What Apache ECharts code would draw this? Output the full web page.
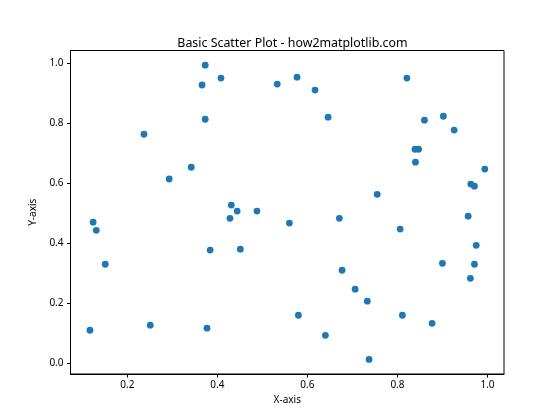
<!DOCTYPE html>
<html>
<head>
<meta charset="utf-8">
<script src="https://cdn.jsdelivr.net/npm/echarts@6/dist/echarts.min.js"></script>
<style>html,body{margin:0;padding:0;background:#fff}#c{width:560px;height:420px}</style>
</head>
<body>
<div id="c"></div>
<script>
const titleText = 'Basic Scatter Plot - how2matplotlib.com';
const xName = 'X-axis';
const yName = 'Y-axis';
const xTicks = [0.2, 0.4, 0.6, 0.8, 1.0];
const yTicks = [0.0, 0.2, 0.4, 0.6, 0.8, 1.0];
const xValues = [0.373,0.408,0.366,0.533,0.373,0.237,0.342,0.293,0.577,0.617,0.646,0.821,0.860,0.902,0.926,0.839,0.847,0.840,0.994,0.963,0.971,0.755,0.431,0.444,0.428,0.488,0.560,0.124,0.131,0.151,0.384,0.451,0.117,0.251,0.377,0.671,0.806,0.957,0.975,0.900,0.971,0.962,0.677,0.706,0.733,0.580,0.811,0.877,0.640,0.737];
const yValues = [0.993,0.950,0.927,0.930,0.813,0.763,0.653,0.614,0.953,0.910,0.820,0.950,0.810,0.823,0.777,0.713,0.713,0.670,0.647,0.597,0.590,0.563,0.527,0.507,0.483,0.507,0.467,0.470,0.443,0.330,0.377,0.380,0.110,0.127,0.117,0.483,0.447,0.490,0.393,0.333,0.330,0.283,0.310,0.247,0.207,0.160,0.160,0.133,0.093,0.013];

const points = xValues.map((x, i) => [x, yValues[i]]);
const font = 'Noto Sans';
const chart = echarts.init(document.getElementById('c'), null, {renderer: 'canvas'});
chart.setOption({
  animation: false,
  backgroundColor: '#fff',
  title: {
    text: titleText,
    left: 287.5,
    textAlign: 'center',
    top: 32,
    textStyle: {fontFamily: font, fontSize: 12.4, fontWeight: 'normal', color: '#000'}
  },
  grid: {left: 70.5, right: 56, top: 50.5, bottom: 46, show: true, borderColor: '#000', borderWidth: 1, containLabel: false},
  xAxis: {
    type: 'value', min: 0.0738, max: 1.0367,
    name: xName, nameLocation: 'middle', nameGap: 21,
    nameTextStyle: {fontFamily: font, fontSize: 10, color: '#000'},
    splitLine: {show: false},
    axisLine: {show: true, onZero: false, lineStyle: {color: '#000', width: 1}},
    axisTick: {show: true, length: 3.5, customValues: xTicks, lineStyle: {color: '#000'}},
    axisLabel: {customValues: xTicks, formatter: v => v.toFixed(1), fontFamily: font, fontSize: 10, color: '#000', margin: 6}
  },
  yAxis: {
    type: 'value', min: -0.0357, max: 1.042,
    name: yName, nameLocation: 'middle', nameGap: 23,
    nameTextStyle: {fontFamily: font, fontSize: 10, color: '#000'},
    splitLine: {show: false},
    axisLine: {show: true, onZero: false, lineStyle: {color: '#000', width: 1}},
    axisTick: {show: true, length: 3.5, customValues: yTicks, lineStyle: {color: '#000'}},
    axisLabel: {customValues: yTicks, formatter: v => v.toFixed(1), fontFamily: font, fontSize: 10, color: '#000', margin: 7}
  },
  series: [{
    type: 'scatter',
    data: points,
    symbolSize: 6.8,
    itemStyle: {color: '#1f77b4', opacity: 1}
  }]
});
</script>
</body>
</html>
